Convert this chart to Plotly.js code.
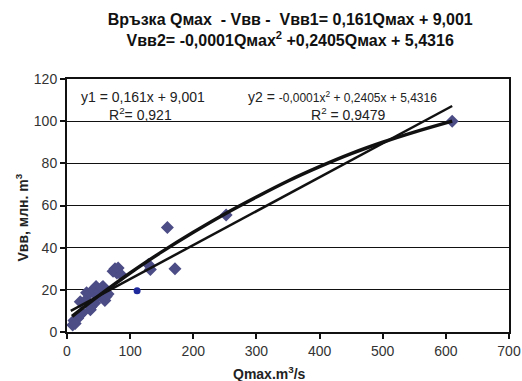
<!DOCTYPE html>
<html>
<head>
<meta charset="utf-8">
<script src="https://cdn.plot.ly/plotly-3.0.1.min.js"></script>
<style>html,body{margin:0;padding:0;background:#fff;}#chart{width:522px;height:381px;}</style>
</head>
<body>
<div id="chart"></div>
<script>
// Observed points (Qmax, Vвв)
const obsX = [9, 11, 13, 17, 20, 24, 21, 30, 31, 36, 37, 38, 42, 44, 46, 48, 51, 55, 57, 60, 62, 65, 73, 76, 79, 81, 86, 129, 132, 159, 171, 252, 610];
const obsY = [3.3, 5.5, 4, 6.5, 8, 9, 14.4, 15.2, 18.6, 18.5, 10.5, 12, 20, 13.7, 21.6, 17, 19.2, 21, 21.6, 15, 16.8, 18, 28.8, 30, 28, 30.4, 27, 32, 29.7, 49.6, 30, 55.5, 100];
// Single highlighted point (blue circle)
const extraX = [111];
const extraY = [19.6];
// Linear trendline (read endpoints)
const linX = [6, 610];
const linY = [10, 107.2];
// Quadratic trendline
const quadX = [8, 50, 100, 150, 200, 250, 300, 350, 400, 450, 500, 550, 610];
const quadY = [7.4, 17.1, 28.0, 38.0, 47.3, 56.0, 64.0, 71.6, 78.4, 84.6, 90.0, 94.8, 100];

const font = 'Arial, "Liberation Sans", sans-serif';

const traces = [
  {x: obsX, y: obsY, type: 'scatter', mode: 'markers',
   marker: {symbol: 'diamond', size: 10, color: '#4c4c86'}, hoverinfo: 'skip'},
  {x: extraX, y: extraY, type: 'scatter', mode: 'markers',
   marker: {symbol: 'circle', size: 7, color: '#1f2a9c'}, hoverinfo: 'skip'},
  {x: linX, y: linY, type: 'scatter', mode: 'lines',
   line: {color: '#111', width: 2.5}, hoverinfo: 'skip'},
  {x: quadX, y: quadY, type: 'scatter', mode: 'lines',
   line: {color: '#111', width: 3.5, shape: 'spline'}, hoverinfo: 'skip'}
];

const layout = {
  width: 522, height: 381,
  margin: {l: 67, r: 13, t: 79, b: 49},
  paper_bgcolor: '#fff', plot_bgcolor: '#fff',
  showlegend: false,
  font: {family: font, color: '#222', size: 14},
  title: {
    text: '<b>Връзка Qмах  - Vвв -  Vвв1= 0,161Qмах + 9,001</b><br><b>Vвв2= -0,0001Qмах<sup>2</sup> +0,2405Qмах + 5,4316</b>',
    font: {family: font, size: 16, color: '#111'},
    xref: 'paper', x: 0.505, xanchor: 'center', yref: 'container', y: 0.935, yanchor: 'middle'
  },
  xaxis: {
    range: [0, 700], tickvals: [0, 100, 200, 300, 400, 500, 600, 700],
    ticks: 'outside', ticklen: 5, tickwidth: 2, tickcolor: '#111',
    showline: true, linecolor: '#111', linewidth: 2, mirror: true,
    showgrid: false, zeroline: false,
    tickfont: {family: font, size: 14, color: '#333'}
  },
  yaxis: {
    range: [0, 120], tickvals: [0, 20, 40, 60, 80, 100, 120],
    ticks: 'outside', ticklen: 5, tickwidth: 2, tickcolor: '#111',
    showline: true, linecolor: '#111', linewidth: 2, mirror: true,
    showgrid: true, gridcolor: '#111', gridwidth: 1.2, zeroline: false,
    tickfont: {family: font, size: 14, color: '#333'}
  },
  annotations: [
    {xref: 'paper', yref: 'paper', x: 0.459, y: -0.162, xanchor: 'center', yanchor: 'middle',
     text: '<b>Qmax.m<sup>3</sup>/s</b>', showarrow: false, font: {family: font, size: 14, color: '#222'}},
    {xref: 'paper', yref: 'paper', x: -0.102, y: 0.452, xanchor: 'center', yanchor: 'middle', textangle: -90,
     text: '<b>Vвв, млн. m<sup>3</sup></b>', showarrow: false, font: {family: font, size: 14, color: '#222'}},
    {xref: 'paper', yref: 'paper', x: 0.028, y: 0.93, xanchor: 'left', yanchor: 'middle',
     text: 'y1 = 0,161x + 9,001', showarrow: false, font: {family: font, size: 14, color: '#222'}},
    {xref: 'paper', yref: 'paper', x: 0.09, y: 0.862, xanchor: 'left', yanchor: 'middle',
     text: 'R<sup>2</sup>= 0,921', showarrow: false, font: {family: font, size: 14, color: '#222'}},
    {xref: 'paper', yref: 'paper', x: 0.405, y: 0.93, xanchor: 'left', yanchor: 'middle',
     text: 'y2 = <span style="font-size:12px">-0,0001x<sup>2</sup> + 0,2405x + 5,4316</span>', showarrow: false, font: {family: font, size: 14, color: '#222'}},
    {xref: 'paper', yref: 'paper', x: 0.548, y: 0.862, xanchor: 'left', yanchor: 'middle',
     text: 'R<sup>2</sup> = 0,9479', showarrow: false, font: {family: font, size: 14, color: '#222'}}
  ]
};

Plotly.newPlot('chart', traces, layout, {staticPlot: true, displayModeBar: false});
</script>
</body>
</html>
